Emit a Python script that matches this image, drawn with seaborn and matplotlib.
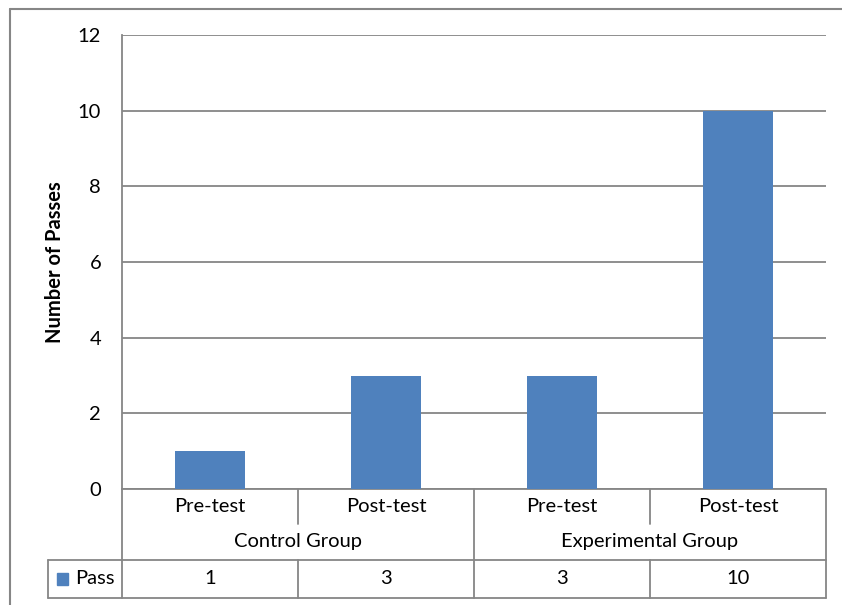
import matplotlib
matplotlib.use("Agg")
import matplotlib.pyplot as plt
from matplotlib.lines import Line2D
from matplotlib.patches import Rectangle
import seaborn as sns
import pandas as pd

# ---- data ----
groups = ["Control Group", "Control Group", "Experimental Group", "Experimental Group"]
tests = ["Pre-test", "Post-test", "Pre-test", "Post-test"]
passes = [1, 3, 3, 10]
series_name = "Pass"
y_label = "Number of Passes"
y_ticks = [0, 2, 4, 6, 8, 10, 12]

sns.set_theme(style="white")
plt.rcParams["font.family"] = ["Lato", "DejaVu Sans"]
plt.rcParams["text.color"] = "black"
plt.rcParams["ytick.color"] = "black"
plt.rcParams["axes.labelcolor"] = "black"

BLUE = "#4F81BD"
GRAY = "#868686"
W, H = 842, 605
FS = 14.5

fig = plt.figure(figsize=(W / 100, H / 100), dpi=100)
ax_left, ax_right, ax_top, ax_bottom = 122, 826, 35, 489
ax = fig.add_axes([ax_left / W, 1 - ax_bottom / H, (ax_right - ax_left) / W, (ax_bottom - ax_top) / H])

df = pd.DataFrame({"cat": [f"{g}|{t}" for g, t in zip(groups, tests)], "val": passes})
sns.barplot(data=df, x="cat", y="val", color=BLUE, width=0.4, saturation=1, ax=ax, zorder=3)
for p in ax.patches:
    p.set_edgecolor("none")

ax.set_xlim(-0.5, len(passes) - 0.5)
ax.set_ylim(0, 12)
ax.set_yticks(y_ticks)
ax.set_yticklabels([str(t) for t in y_ticks], fontsize=FS)
ax.tick_params(axis="y", length=0, pad=15)
ax.set_xticks([])
ax.set_xlabel("")
ax.set_ylabel(y_label, fontsize=FS, fontweight="bold")
ax.yaxis.set_label_coords((55 - ax_left) / (ax_right - ax_left), 0.5)
ax.yaxis.label.set_va("center")
ax.yaxis.grid(True, color=GRAY, lw=1.3, zorder=0)
for s in ["top", "right", "bottom"]:
    ax.spines[s].set_visible(False)
ax.spines["left"].set_color(GRAY)
ax.spines["left"].set_linewidth(1.3)

# ---- data table below the axis ----
def ay(py):
    return (ax_bottom - py) / (ax_bottom - ax_top)

tr = ax.get_xaxis_transform()
y0, y1, y2, y3 = ay(489), ay(524), ay(560), ay(598)
n = len(passes)
lkw = dict(color=GRAY, lw=1.3, transform=tr, clip_on=False)

# horizontal lines
ax.add_line(Line2D([-0.5, n - 0.5], [y0, y0], **lkw))
ax.add_line(Line2D([-0.92, n - 0.5], [y2, y2], **lkw))
ax.add_line(Line2D([-0.92, n - 0.5], [y3, y3], **lkw))
# left of legend cell
ax.add_line(Line2D([-0.92, -0.92], [y2, y3], **lkw))
# vertical boundaries
ax.add_line(Line2D([-0.5, -0.5], [y0, y3], **lkw))
ax.add_line(Line2D([n - 0.5, n - 0.5], [y0, y3], **lkw))
for i in range(1, n):
    if groups[i] != groups[i - 1]:
        ax.add_line(Line2D([i - 0.5, i - 0.5], [y0, y3], **lkw))
    else:
        ax.add_line(Line2D([i - 0.5, i - 0.5], [y0, y1], **lkw))
        ax.add_line(Line2D([i - 0.5, i - 0.5], [y2, y3], **lkw))

# category labels & values
for i, (t, v) in enumerate(zip(tests, passes)):
    ax.text(i, (y0 + y1) / 2, t, transform=tr, ha="center", va="center", fontsize=FS)
    ax.text(i, (y2 + y3) / 2, str(v), transform=tr, ha="center", va="center", fontsize=FS)

# group labels
uniq = []
for g in groups:
    if g not in uniq:
        uniq.append(g)
for g in uniq:
    idx = [i for i, gg in enumerate(groups) if gg == g]
    ax.text((idx[0] + idx[-1]) / 2, (y1 + y2) / 2, g, transform=tr, ha="center",
            va="center", fontsize=FS)

# legend key
ax.add_patch(Rectangle((-0.869, ay(585)), 0.0625, ay(573) - ay(585), transform=tr,
                       color=BLUE, clip_on=False))
ax.text(-0.765, (y2 + y3) / 2, series_name, transform=tr, ha="left", va="center", fontsize=FS)

# outer chart frame (partly cropped)
fx, fy = 10 / W, 1 - 9 / H
fig.add_artist(Line2D([fx, fx], [0, fy], color=GRAY, lw=1.5, transform=fig.transFigure))
fig.add_artist(Line2D([fx, 1], [fy, fy], color=GRAY, lw=1.5, transform=fig.transFigure))

fig.savefig("out.png", dpi=100)
